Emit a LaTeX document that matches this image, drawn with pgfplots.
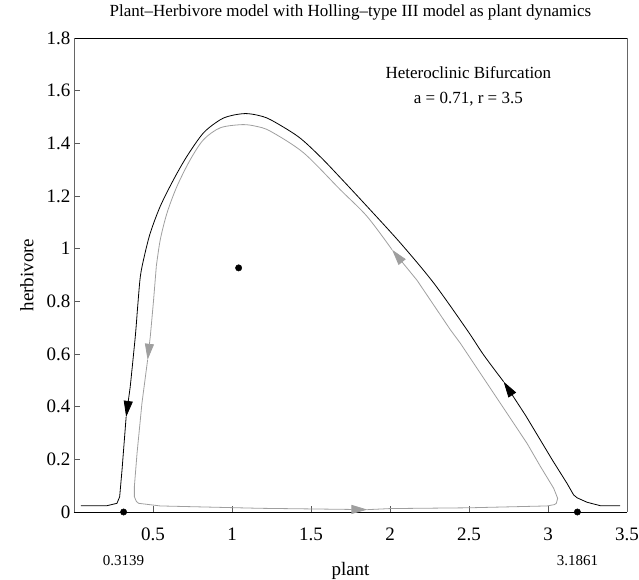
\documentclass[border=0pt]{standalone}
\usepackage{fontspec}
\setmainfont{Liberation Serif}
\usepackage{pgfplots}
\pgfplotsset{compat=1.18}
\usetikzlibrary{arrows.meta}
\begin{document}
\begin{tikzpicture}
\begin{axis}[
  scale only axis, width=553pt, height=474pt,
  xmin=0, xmax=3.5, ymin=0, ymax=1.8,
  xtick={0.5,1,1.5,2,2.5,3,3.5},
  ytick={0,0.2,0.4,0.6,0.8,1,1.2,1.4,1.6,1.8},
  tick align=inside, xtick pos=bottom, ytick pos=left,
  major tick length=6pt,
  /pgf/number format/assume math mode=true,
  tick label style={font=\fontsize{19}{21}\selectfont},
  xticklabel style={yshift=-12pt},
  every tick/.style={gray!70!black, line width=0.6pt},
  separate axis lines,
  x axis line style={black, line width=0.7pt},
  y axis line style={gray!80!black, line width=0.7pt},
  extra x ticks={0.3139,3.1861},
  extra x tick labels={0.3139,3.1861},
  extra x tick style={major tick length=0pt, tick label style={font=\fontsize{15}{17}\selectfont, yshift=-28pt}},
  xlabel={plant}, ylabel={herbivore},
  label style={font=\fontsize{19}{21}\selectfont},
  xlabel style={at={(axis description cs:0.5,-0.1245)}, anchor=center},
  ylabel style={at={(axis description cs:-0.085,0.5)}, anchor=center},
  title={Plant--Herbivore model with Holling--type III model as plant dynamics},
  title style={font=\fontsize{17}{19}\selectfont, at={(axis description cs:0.5,1.042)}, anchor=center},
  clip=false,
]
% black heteroclinic orbit
\addplot[black, line width=0.8pt, -{Triangle[length=16pt,width=9pt]}] coordinates {
 (3.456,0.024) (3.331,0.024) (3.247,0.037) (3.184,0.054) (3.162,0.065) (3.120,0.109)
 (3.03,0.195) (2.951,0.274) (2.86,0.365) (2.719,0.495)};
\addplot[black, line width=0.8pt, smooth, tension=0.5] coordinates {
 (2.719,0.495) (2.592,0.597) (2.487,0.692) (2.276,0.870) (2.065,1.022) (1.854,1.161) (1.685,1.270)
 (1.559,1.349) (1.42,1.425) (1.243,1.490) (1.16,1.507) (1.084,1.513) (1.0,1.506) (0.927,1.490)
 (0.820,1.440) (0.715,1.351) (0.630,1.262) (0.546,1.161) (0.483,1.060) (0.445,0.971) (0.420,0.895)
 (0.403,0.78) (0.388,0.667) (0.356,0.476)};
\addplot[black, line width=0.8pt, -{Triangle[length=16pt,width=9pt]}] coordinates {
 (0.356,0.476) (0.330,0.361)};
\addplot[black, line width=0.8pt] coordinates {
 (0.330,0.361) (0.304,0.160) (0.289,0.058) (0.272,0.033) (0.209,0.024) (0.044,0.024)};
% grey periodic orbit
\addplot[gray!75, line width=0.8pt, -{Triangle[length=16pt,width=9pt]}] coordinates {
 (0.521,0.933) (0.503,0.80) (0.483,0.667) (0.466,0.578)};
\addplot[gray!75, line width=0.8pt, -{Triangle[length=16pt,width=9pt]}] coordinates {
 (0.466,0.578) (0.430,0.413) (0.399,0.223) (0.382,0.096) (0.382,0.058) (0.395,0.040) (0.409,0.033)
 (0.546,0.023) (1.179,0.014) (1.857,0.009)};
\addplot[gray!75, line width=0.8pt, -{Triangle[length=16pt,width=9pt]}] coordinates {
 (1.857,0.009) (2.002,0.013) (2.502,0.016) (2.994,0.023) (3.040,0.028) (3.053,0.033) (3.061,0.052)
 (3.036,0.090) (2.95,0.175) (2.867,0.261) (2.656,0.451) (2.445,0.641) (2.382,0.692) (2.171,0.880) (2.013,0.996)};
\addplot[gray!75, line width=0.8pt, smooth, tension=0.5] coordinates {
 (2.013,0.996) (1.854,1.123) (1.685,1.224) (1.453,1.364) (1.243,1.446) (1.15,1.465) (1.063,1.471)
 (0.926,1.459) (0.820,1.414) (0.736,1.338) (0.652,1.237) (0.589,1.136) (0.546,1.034) (0.521,0.933)};
% equilibria
\addplot[only marks, mark=*, mark size=3.2pt, black] coordinates {(0.3139,0) (3.1861,0) (1.042,0.927)};
\node[font=\fontsize{17}{19}\selectfont] at (axis cs:2.496,1.669) {Heteroclinic Bifurcation};
\node[font=\fontsize{17}{19}\selectfont] at (axis cs:2.496,1.567) {a = 0.71, r = 3.5};
\end{axis}
\pgfresetboundingbox
\path (current axis.south west) ++(-74pt,-68pt) rectangle (current axis.north east) ++(12pt,38pt);
\end{tikzpicture}
\end{document}
